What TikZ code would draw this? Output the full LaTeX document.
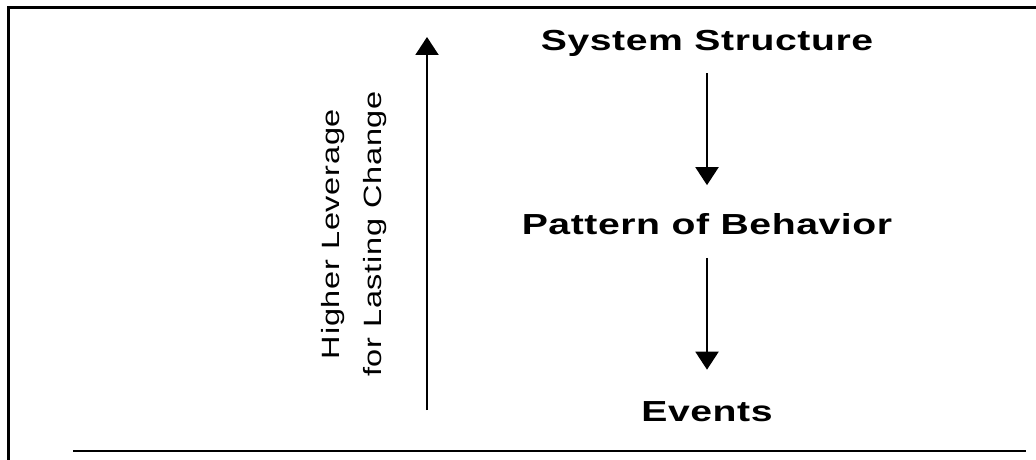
\documentclass[tikz,border=0pt]{standalone}
\usepackage{fontspec}
\setmainfont{Liberation Sans}[FakeStretch=1.35, LetterSpace=2]
\newfontfamily\sidefont{Liberation Sans}[FakeStretch=1.3, LetterSpace=3]
\usetikzlibrary{arrows.meta}
\tikzset{
  level/.style={font=\bfseries\fontsize{29}{30}\selectfont, inner sep=0pt},
  flow/.style={line width=2pt, -{Triangle[width=23pt,length=18pt]}},
}
\begin{document}
\begin{tikzpicture}[x=1pt,y=-1pt]
		\useasboundingbox (0,0) rectangle (1036,460);
		% 外框与底线
		\draw[line width=3pt] (8.5,460) -- (8.5,7.5) -- (1036,7.5);
		\draw[line width=2.5pt] (73,451) -- (1026,451);

		% 三个层次
		\node[level] (structure) at (707,43) {System Structure};
		\node[level] (pattern) at (707,224) {Pattern of Behavior};
		\node[level] (events) at (707,412) {Events};
		\draw[flow, shorten <=17pt, shorten >=28pt] (structure) -- (pattern);
		\draw[flow, shorten <=23pt, shorten >=32pt] (pattern) -- (events);

		% 左侧杠杆箭头
		\coordinate (lowend) at (427,410);
		\coordinate (highend) at (427,37);
		\draw[flow] (lowend) -- (highend);
		\node[rotate=90, align=center, font=\sidefont\fontsize{25}{42}\selectfont] (leverage) at (354,234) {Higher Leverage\\for Lasting Change};
	\end{tikzpicture}
\end{document}
